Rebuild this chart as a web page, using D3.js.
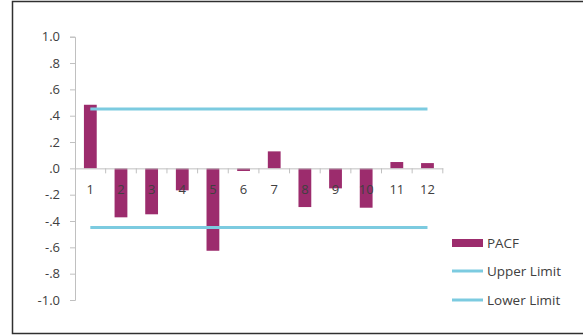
<!DOCTYPE html>
<html><head><meta charset="utf-8">
<script src="https://cdn.jsdelivr.net/npm/d3@7"></script>
<style>
html,body{margin:0;padding:0;background:#fff;}
svg{display:block;font-family:"Open Sans",sans-serif;}
</style></head>
<body><svg id="c" width="583" height="335"></svg>
<script>
const lags = ["1","2","3","4","5","6","7","8","9","10","11","12"];
const pacf = [0.483,-0.372,-0.349,-0.167,-0.626,-0.02,0.129,-0.294,-0.152,-0.299,0.048,0.040];
const upperLimit = [0.45,0.45,0.45,0.45,0.45,0.45,0.45,0.45,0.45,0.45,0.45,0.45];
const lowerLimit = [-0.45,-0.45,-0.45,-0.45,-0.45,-0.45,-0.45,-0.45,-0.45,-0.45,-0.45,-0.45];
const yTicks = [1.0,0.8,0.6,0.4,0.2,0.0,-0.2,-0.4,-0.6,-0.8,-1.0];
const legendLabels = ["PACF","Upper Limit","Lower Limit"];

const svg = d3.select("#c");
const barColor = "#9c2c6d", lineColor = "#7ccbe0", textColor = "#404040", axisColor = "#c0c0c0";

// frame
svg.append("rect").attr("x",12.5).attr("y",1.5).attr("width",580).attr("height",332)
  .attr("fill","none").attr("stroke","#303030").attr("stroke-width",1.5);

const x = d3.scaleBand().domain(lags).range([75,442.8]);
const y = d3.scaleLinear().domain([-1,1]).range([300,36.7]);

// y axis
const fmt = v => { const s = Math.abs(v).toFixed(1).replace(/^0/,""); return (v < -1e-9 ? "-" : "") + s; };
const yAxis = svg.append("g").attr("transform","translate(75,0)")
  .call(d3.axisLeft(y).tickValues(yTicks).tickSize(5).tickPadding(10).tickFormat(fmt));
yAxis.select(".domain").attr("stroke",axisColor);
yAxis.selectAll(".tick line").attr("stroke",axisColor);
yAxis.selectAll("text").attr("fill",textColor).style("font-size","13px").style("font-family","'Open Sans',sans-serif");

// bars
svg.append("g").selectAll("rect").data(pacf).join("rect")
  .attr("x",(d,i)=>x(lags[i]) + x.bandwidth()/2 - 6.4)
  .attr("width",12.8)
  .attr("y",d=>y(Math.max(0,d)))
  .attr("height",d=>Math.abs(y(d)-y(0)))
  .attr("fill",barColor);

// x axis
const xAxis = svg.append("g").attr("transform",`translate(0,${y(0)})`)
  .call(d3.axisBottom(x).tickSize(0).tickPadding(16));
xAxis.select(".domain").attr("stroke",axisColor);
xAxis.selectAll("text").attr("fill",textColor).style("font-size","13px").style("font-family","'Open Sans',sans-serif");
// category boundary ticks
const bounds = lags.map(l=>x(l)).concat([x.range()[1]]);
svg.append("g").selectAll("line").data(bounds.slice(1)).join("line")
  .attr("x1",d=>d).attr("x2",d=>d).attr("y1",y(0)).attr("y2",y(0)+5)
  .attr("stroke",axisColor);

// limit lines
const line = d3.line().x((d,i)=>x(lags[i])+x.bandwidth()/2).y(d=>y(d));
svg.append("path").datum(upperLimit).attr("d",line).attr("fill","none").attr("stroke",lineColor).attr("stroke-width",3);
svg.append("path").datum(lowerLimit).attr("d",line).attr("fill","none").attr("stroke",lineColor).attr("stroke-width",3);

// legend
const lg = svg.append("g");
const ly = [243,271,300];
lg.append("rect").attr("x",452).attr("y",ly[0]-4).attr("width",31).attr("height",8).attr("fill",barColor);
[1,2].forEach(i=>lg.append("line").attr("x1",452).attr("x2",483).attr("y1",ly[i]).attr("y2",ly[i])
  .attr("stroke",lineColor).attr("stroke-width",3));
const texts = legendLabels.map((t,i)=>lg.append("text").attr("x",487).attr("y",ly[i]).attr("dy","0.35em")
  .attr("fill",textColor).style("font-size","13px").text(t));
// size legend font so "Upper Limit" spans ~75px as in the reference
const w = texts[1].node().getComputedTextLength();
const fs = Math.max(12, Math.min(16, 13 * 74 / w));
texts.forEach(t=>t.style("font-size", fs + "px"));
</script></body></html>
